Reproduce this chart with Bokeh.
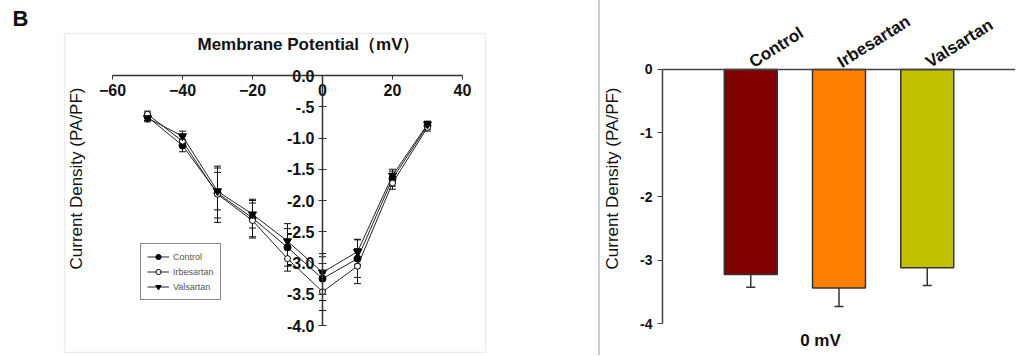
import math
from bokeh.plotting import figure
from bokeh.layouts import row
from bokeh.models import (Range1d, FactorRange, FixedTicker, Whisker, TeeHead,
                          ColumnDataSource, Legend, LegendItem, Label, BoxAnnotation)
from bokeh.embed import file_html
from bokeh.resources import INLINE

# ---------------- data ----------------
voltages = [-50, -40, -30, -20, -10, 0, 10, 20, 30]
control_iv = [-0.66, -1.12, -1.88, -2.28, -2.75, -3.25, -2.93, -1.65, -0.80]
control_se = [0.06, 0.10, 0.40, 0.30, 0.30, 0.35, 0.30, 0.12, 0.06]
irbesartan_iv = [-0.62, -1.05, -1.90, -2.32, -2.93, -3.46, -3.05, -1.72, -0.83]
irbesartan_se = [0.05, 0.08, 0.45, 0.28, 0.20, 0.30, 0.28, 0.10, 0.06]
valsartan_iv = [-0.68, -0.97, -1.85, -2.22, -2.65, -3.15, -2.82, -1.60, -0.78]
valsartan_se = [0.06, 0.08, 0.30, 0.22, 0.28, 0.30, 0.20, 0.10, 0.05]

x_ticks = [-60, -40, -20, 0, 20, 40]
y_ticks = [0.0, -0.5, -1.0, -1.5, -2.0, -2.5, -3.0, -3.5, -4.0]
y_tick_labels = ["0.0", "-.5", "-1.0", "-1.5", "-2.0", "-2.5", "-3.0", "-3.5", "-4.0"]

groups = ["Control", "Irbesartan", "Valsartan"]
bar_means = [-3.23, -3.44, -3.12]
bar_se = [0.20, 0.29, 0.28]
bar_ticks = [0, -1, -2, -3, -4]
bar_tick_labels = ["0", "-1", "-2", "-3", "-4"]
bar_colors = ["#800000", "#FF8000", "#C0C000"]

FONT = "Liberation Sans"
H = 355
TOP = 3
BOTTOM = 2

# ---------------- left: I-V curve ----------------
p1 = figure(width=598, height=H, output_backend="svg", toolbar_location=None,
            x_range=Range1d(-90.571, 76.571), y_range=Range1d(-4.448, 1.152))
p1.min_border = 0
p1.min_border_left = 5
p1.min_border_right = 8
p1.min_border_top = TOP
p1.min_border_bottom = BOTTOM
p1.grid.visible = False
p1.outline_line_color = None

# panel frame (decoration)
p1.add_layout(BoxAnnotation(left=-73.714, right=46.571, top=0.672, bottom=-4.432,
                            fill_alpha=0, line_color="#c4c4c4", line_width=1.5))

xa = p1.xaxis[0]
xa.fixed_location = 0
xa.bounds = (-60, 40)
xa.ticker = FixedTicker(ticks=x_ticks)
xa.minor_tick_line_color = None
xa.major_tick_in = 0
xa.major_tick_out = 4
xa.major_label_standoff = 4
xa.axis_line_width = 1.5
xa.axis_line_color = "#333333"
xa.major_tick_line_color = "#333333"
xa.major_label_text_font = FONT
xa.major_label_text_font_style = "bold"
xa.major_label_text_font_size = "16px"
xa.major_label_text_color = "#111111"

ya = p1.yaxis[0]
ya.fixed_location = 0
ya.bounds = (-4, 0)
ya.ticker = FixedTicker(ticks=y_ticks)
ya.major_label_overrides = {t: s for t, s in zip(y_ticks, y_tick_labels)}
ya.minor_tick_line_color = None
ya.major_tick_in = 4
ya.major_tick_out = 4
ya.major_label_standoff = 4
ya.axis_line_width = 1.5
ya.axis_line_color = "#333333"
ya.major_tick_line_color = "#333333"
ya.major_label_text_font = FONT
ya.major_label_text_font_style = "bold"
ya.major_label_text_font_size = "16px"
ya.major_label_text_color = "#111111"

series = [
    ("Control", control_iv, control_se, "circle", "black", 7),
    ("Irbesartan", irbesartan_iv, irbesartan_se, "circle", "white", 6),
    ("Valsartan", valsartan_iv, valsartan_se, "inverted_triangle", "black", 8),
]
items = []
for name, vals, se, marker, fill, size in series:
    src = ColumnDataSource(dict(x=voltages, y=vals,
                                upper=[v + e for v, e in zip(vals, se)],
                                lower=[v - e for v, e in zip(vals, se)]))
    p1.add_layout(Whisker(base="x", upper="upper", lower="lower", source=src,
                          line_color="#111111", line_width=1,
                          upper_head=TeeHead(size=7, line_color="#111111", line_width=1),
                          lower_head=TeeHead(size=7, line_color="#111111", line_width=1)))
    lr = p1.line("x", "y", source=src, line_color="#222222", line_width=1)
    sr = p1.scatter("x", "y", source=src, marker=marker, size=size,
                    fill_color=fill, line_color="black", line_width=1)
    items.append(LegendItem(label=name, renderers=[lr, sr]))

legend = Legend(items=items, location=(135, 53))
legend.label_text_font = FONT
legend.label_text_font_size = "9px"
legend.label_text_color = "#555555"
legend.glyph_width = 22
legend.glyph_height = 13
legend.label_height = 13
legend.spacing = 2
legend.padding = 6
legend.margin = 0
legend.label_standoff = 4
legend.border_line_color = "#111111"
legend.border_line_width = 1.5
p1.add_layout(legend)

p1.add_layout(Label(x=-86.286, y=0.912, text="B", text_font=FONT, text_font_style="bold",
                    text_font_size="22px", text_align="center", text_baseline="middle",
                    text_color="#111111"))
p1.add_layout(Label(x=-4, y=0.50, text="Membrane Potential（mV）", text_font=FONT,
                    text_font_style="bold", text_font_size="17px", text_align="center",
                    text_baseline="middle", text_color="#111111"))
p1.add_layout(Label(x=-70.29, y=-1.648, text="Current Density (PA/PF)", text_font=FONT,
                    text_font_size="17px", angle=math.pi / 2, text_align="center",
                    text_baseline="middle", text_color="#111111"))

# ---------------- right: bar chart at 0 mV ----------------
p2 = figure(width=420, height=H, output_backend="svg", toolbar_location=None,
            x_range=FactorRange(factors=groups, range_padding=0.5,
                                range_padding_units="absolute"),
            y_range=Range1d(-4.472, 1.039), x_axis_location="above",
            styles={"border-left": "2px solid #cccccc"})
p2.min_border = 0
p2.min_border_left = 62
p2.min_border_right = 5
p2.min_border_top = TOP
p2.min_border_bottom = BOTTOM
p2.grid.visible = False
p2.outline_line_color = None

p2.vbar(x=groups, top=bar_means, bottom=0, width=0.6, fill_color=bar_colors,
        line_color="#333333", line_width=1.5)
bsrc = ColumnDataSource(dict(x=groups, upper=bar_means,
                             lower=[m - e for m, e in zip(bar_means, bar_se)]))
p2.add_layout(Whisker(base="x", upper="upper", lower="lower", source=bsrc,
                      line_color="#333333", line_width=1.5, upper_head=None,
                      lower_head=TeeHead(size=9, line_color="#333333", line_width=1.5)))

bx = p2.xaxis[0]
bx.fixed_location = 0
bx.major_label_orientation = 0.56
bx.major_tick_line_color = None
bx.major_tick_out = 0
bx.major_label_standoff = 6
bx.axis_line_width = 1.5
bx.axis_line_color = "#444444"
bx.major_label_text_font = FONT
bx.major_label_text_font_style = "bold"
bx.major_label_text_font_size = "17px"
bx.major_label_text_color = "#111111"

by = p2.yaxis[0]
by.ticker = FixedTicker(ticks=bar_ticks)
by.major_label_overrides = {t: s for t, s in zip(bar_ticks, bar_tick_labels)}
by.bounds = (-4, 0)
by.minor_tick_line_color = None
by.major_tick_in = 0
by.major_tick_out = 5
by.major_label_standoff = 5
by.axis_line_width = 1.5
by.axis_line_color = "#444444"
by.major_tick_line_color = "#444444"
by.major_label_text_font = FONT
by.major_label_text_font_style = "bold"
by.major_label_text_font_size = "14px"
by.major_label_text_color = "#111111"
by.axis_label = "Current Density (PA/PF)"
by.axis_label_text_font = FONT
by.axis_label_text_font_style = "normal"
by.axis_label_text_font_size = "17px"
by.axis_label_text_color = "#111111"
by.axis_label_standoff = 15

p2.add_layout(Label(x=1.29, y=-4.268, text="0 mV", text_font=FONT, text_font_style="bold",
                    text_font_size="17px", text_align="center", text_baseline="middle",
                    text_color="#111111"))

layout = row(p1, p2)
open("out.html", "w").write(file_html(layout, INLINE))
